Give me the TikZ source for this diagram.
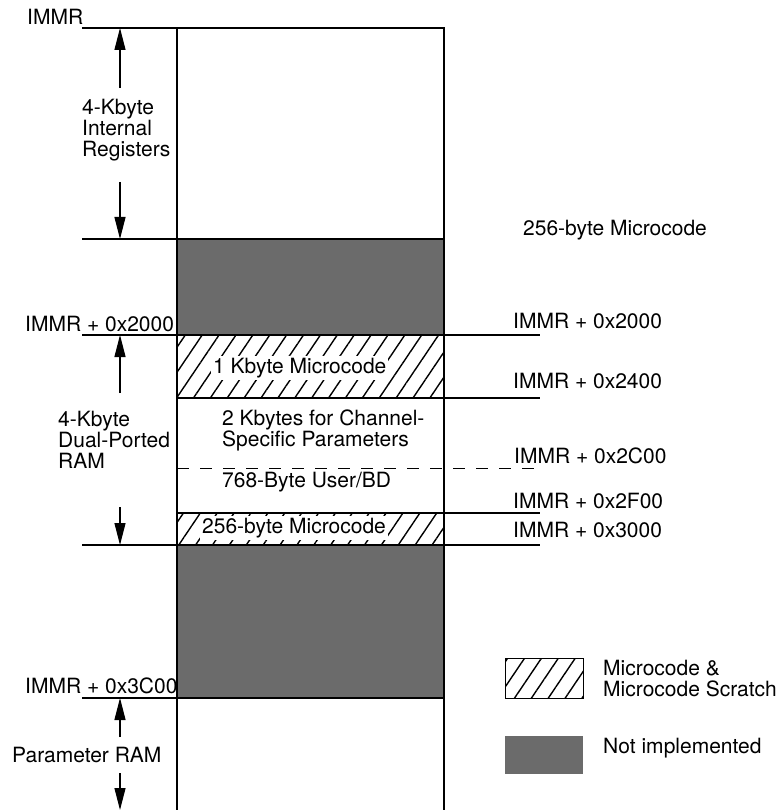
\documentclass[tikz,border=0pt]{standalone}
\usepackage{fontspec}
\setmainfont{TeX Gyre Heros}
\usetikzlibrary{patterns.meta,arrows.meta}

\begin{document}
\begin{tikzpicture}[x=1pt, y=-1pt,
  every node/.style={font=\fontsize{21}{21}\selectfont, inner sep=0pt},
  rule/.style={line width=1.1pt},
  hatch/.style={pattern={Lines[angle=56,distance=14pt,line width=1.4pt]}},
  unimpl/.style={fill=black!58},
  dim/.style={line width=1.2pt, -{Triangle[length=22pt,width=11pt]}},
  onwhite/.style={fill=white, inner sep=2pt}]
\useasboundingbox (0,0) rectangle (783,810);

% column regions
\fill[unimpl] (177,239) rectangle (444,335);
\fill[hatch] (177,335) rectangle (444,398);
\fill[hatch] (177,513) rectangle (444,545);
\fill[unimpl] (177,545) rectangle (444,698);
\draw[line width=1.4pt] (177,810) -- (177,28) -- (444,28) -- (444,810);

% boundaries
\draw[rule] (82,28) -- (177,28);
\draw[rule] (82,239) -- (444,239);
\draw[rule] (82,335) -- (540,335);
\draw[rule] (177,398) -- (540,398);
\draw[rule] (177,513) -- (540,513);
\draw[rule] (82,545) -- (540,545);
\draw[rule] (82,698) -- (444,698);
\draw[line width=0.8pt, dash pattern=on 12pt off 11pt] (177,468) -- (545,468);

% left side
\node[anchor=base west] (immr) at (27,25) {IMMR};
\node[anchor=base west, align=left] (reglbl) at (82,157) {4-Kbyte\\Internal\\Registers};
\coordinate (regtop) at (120,28);
\coordinate (regbot) at (120,239);
\draw[dim] (120,88) -- (regtop);
\draw[dim] (120,182) -- (regbot);

\node[anchor=base west] (dpr) at (25,331) {IMMR + 0x2000};
\node[anchor=base west, align=left] (dprlbl) at (58,468) {4-Kbyte\\Dual-Ported\\RAM};
\coordinate (dprtop) at (120,335);
\coordinate (dprbot) at (120,545);
\draw[dim] (120,393) -- (dprtop);
\draw[dim] (120,507) -- (dprbot);

\node[anchor=base west] (pram) at (25,693) {IMMR + 0x3C00};
\node[anchor=base west] (pramlbl) at (12,762) {Parameter RAM};
\coordinate (pramtop) at (120,698);
\coordinate (prambot) at (120,810);
\draw[dim] (120,737) -- (pramtop);
\draw[dim] (120,773) -- (prambot);

% inside the column
\node[onwhite, anchor=base west] (ucode) at (211,373) {1 Kbyte Microcode};
\node[anchor=base west, align=left] (chan) at (222,446) {2 Kbytes for Channel-\\Specific Parameters};
\node[anchor=base west] (user) at (222,487) {768-Byte User/BD};
\node[onwhite, anchor=base west] (ucodes) at (200,533) {256-byte Microcode};

% right side
\node[anchor=base west] (stray) at (523,235) {256-byte Microcode};
\node[anchor=base west] (a2000) at (513,328) {IMMR + 0x2000};
\node[anchor=base west] (a2400) at (513,388) {IMMR + 0x2400};
\node[anchor=base west] (a2c00) at (514,463) {IMMR + 0x2C00};
\node[anchor=base west] (a2f00) at (513,508) {IMMR + 0x2F00};
\node[anchor=base west] (a3000) at (513,537) {IMMR + 0x3000};

% legend
\draw[hatch, line width=0.8pt] (505,658) rectangle (583,698);
\node[anchor=base west, align=left] (keyhatch) at (603,696) {Microcode \&\\Microcode Scratch};
\fill[unimpl] (505,736) rectangle (583,774);
\node[anchor=base west] (keygray) at (603,753) {Not implemented};
\end{tikzpicture}
\end{document}
